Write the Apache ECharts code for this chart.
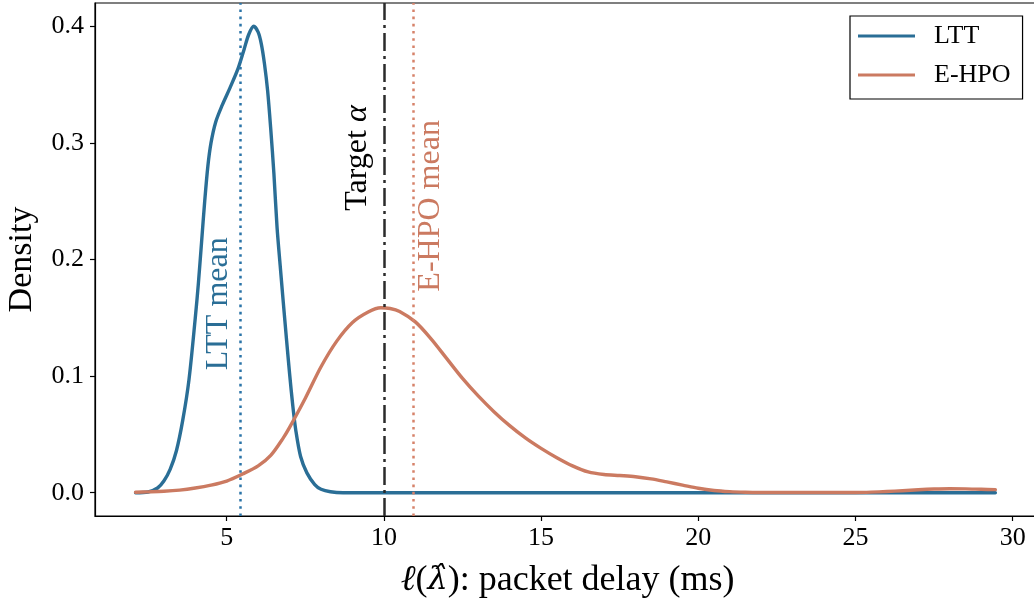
<!DOCTYPE html>
<html>
<head>
<meta charset="utf-8">
<script src="https://cdn.jsdelivr.net/npm/echarts@6/dist/echarts.min.js"></script>
<style>
  html, body { margin: 0; padding: 0; background: #fff; }
  #chart { width: 1034px; height: 601px; }
</style>
</head>
<body>
<div id="chart"></div>
<script>
// Kernel density estimates of packet delay (ms)
const lttX = [2.1, 2.5, 2.8, 3.0, 3.2, 3.4, 3.6, 3.8, 4.0, 4.1, 4.2, 4.3, 4.4, 4.5, 4.65, 4.85, 5.1, 5.35, 5.55, 5.7, 5.86, 6.0, 6.1, 6.2, 6.3, 6.4, 6.5, 6.6, 6.7, 6.8, 6.9, 7.0, 7.1, 7.2, 7.35, 7.55, 7.8, 8.0, 8.3, 8.7, 10, 15, 20, 25, 29.45];
const lttY = [0, 0.0006, 0.004, 0.010, 0.020, 0.036, 0.062, 0.097, 0.150, 0.180, 0.215, 0.250, 0.280, 0.300, 0.318, 0.332, 0.347, 0.363, 0.380, 0.393, 0.400, 0.395, 0.385, 0.368, 0.345, 0.312, 0.274, 0.228, 0.195, 0.163, 0.132, 0.102, 0.075, 0.053, 0.031, 0.017, 0.007, 0.003, 0.0008, 0, 0, 0, 0, 0, 0];

const ehpoX = [2.1, 2.5, 3.0, 3.5, 4.0, 4.5, 5.0, 5.5, 6.0, 6.4, 6.8, 7.0, 7.5, 8.0, 8.5, 9.0, 9.5, 9.9, 10.2, 10.5, 11.0, 11.5, 12.0, 12.5, 13.0, 13.5, 14.0, 14.5, 15.0, 15.5, 16.0, 16.5, 17.0, 17.5, 18.0, 18.5, 19.0, 19.5, 20.0, 20.5, 21.0, 21.5, 22.0, 23.0, 24.0, 25.0, 25.5, 26.0, 26.5, 27.0, 27.5, 28.0, 28.5, 29.0, 29.45];
const ehpoY = [0.0004, 0.0007, 0.0012, 0.0022, 0.004, 0.0065, 0.010, 0.016, 0.023, 0.032, 0.047, 0.056, 0.081, 0.108, 0.130, 0.146, 0.155, 0.1586, 0.158, 0.1555, 0.1465, 0.132, 0.115, 0.098, 0.083, 0.0695, 0.0575, 0.047, 0.038, 0.030, 0.023, 0.0178, 0.0156, 0.0147, 0.0137, 0.0118, 0.0092, 0.0065, 0.0038, 0.0019, 0.0009, 0.0004, 0.0002, 0.0001, 0.0001, 0.0002, 0.0005, 0.001, 0.0017, 0.0025, 0.0031, 0.0034, 0.0033, 0.0029, 0.0026];

// Reference lines: mean delays and the target
const lttMean = 5.42;
const ehpoMean = 10.93;
const targetAlpha = 10.0;

// Rotated annotation anchors [x, y]
const lttMeanLabelAt = [4.74, 0.162];
const targetLabelAt = [9.16, 0.287];
const ehpoMeanLabelAt = [11.48, 0.246];

const xTicks = [5, 10, 15, 20, 25, 30];
const yTicks = [0, 0.1, 0.2, 0.3, 0.4];

const LTT_COLOR = '#2a6e96';
const EHPO_COLOR = '#cb7a61';
const FONT = "'Liberation Serif', 'Times New Roman', 'DejaVu Serif', serif";

const zip = (xs, ys) => xs.map((x, i) => [x, ys[i]]);

function vline(x, color, type) {
  return {
    silent: true,
    symbol: 'none',
    label: { show: false },
    lineStyle: { color: color, width: 2.5, type: type, opacity: 1 },
    emphasis: { disabled: true },
    data: [{ xAxis: x }]
  };
}

function note(pos, text, color, rich) {
  return {
    type: 'scatter',
    silent: true,
    symbolSize: 0,
    z: 5,
    data: [pos],
    itemStyle: { opacity: 1 },
    label: {
      show: true,
      position: 'inside',
      rotate: 90,
      align: 'center',
      verticalAlign: 'middle',
      formatter: text,
      color: color,
      opacity: 1,
      fontFamily: FONT,
      fontSize: 32,
      rich: rich || {}
    }
  };
}

const chart = echarts.init(document.getElementById('chart'), null, { renderer: 'canvas' });

chart.setOption({
  animation: false,
  backgroundColor: '#ffffff',
  textStyle: { fontFamily: FONT },
  grid: {
    left: 95, top: 3, width: 945, height: 513,
    outerBoundsMode: 'none',
    containLabel: false,
    show: true, borderColor: '#000', borderWidth: 1.2, backgroundColor: 'transparent'
  },
  legend: {
    orient: 'vertical',
    left: 850, top: 16,
    data: ['LTT', 'E-HPO'],
    icon: 'rect',
    itemWidth: 57, itemHeight: 3,
    itemGap: 13,
    padding: [7, 12, 11, 8],
    borderColor: '#000', borderWidth: 1.2, borderRadius: 0,
    backgroundColor: '#fff',
    textStyle: { fontFamily: FONT, fontSize: 26, color: '#000', width: 80, padding: [0, 0, 0, 14] }
  },
  xAxis: {
    type: 'value',
    min: 0.81, max: 30.87,
    name: '{i|ℓ}({g|λ̂}): packet delay (ms)',
    nameLocation: 'middle',
    nameGap: 47,
    nameTextStyle: {
      fontFamily: FONT, fontSize: 36, color: '#000',
      rich: {
        i: { fontFamily: FONT, fontSize: 36, fontStyle: 'italic', color: '#000' },
        g: { fontFamily: "'DejaVu Serif', serif", fontSize: 32, fontStyle: 'italic', color: '#000' }
      }
    },
    axisLine: { show: true, onZero: false, lineStyle: { color: '#000', width: 1.2 } },
    axisTick: { show: true, inside: false, length: 5, customValues: xTicks, lineStyle: { color: '#000', width: 1.2 } },
    axisLabel: { customValues: xTicks, margin: 9, fontFamily: FONT, fontSize: 26, color: '#000' },
    splitLine: { show: false }
  },
  yAxis: {
    type: 'value',
    min: -0.02, max: 0.42,
    name: 'Density',
    nameLocation: 'middle',
    nameGap: 56,
    nameTextStyle: { fontFamily: FONT, fontSize: 34, color: '#000' },
    axisLine: { show: true, onZero: false, lineStyle: { color: '#000', width: 1.2 } },
    axisTick: { show: true, inside: false, length: 5, customValues: yTicks, lineStyle: { color: '#000', width: 1.2 } },
    axisLabel: {
      customValues: yTicks, margin: 11, fontFamily: FONT, fontSize: 26, color: '#000',
      formatter: v => v.toFixed(1)
    },
    splitLine: { show: false }
  },
  series: [
    {
      name: 'LTT',
      type: 'line',
      data: zip(lttX, lttY),
      smooth: 0.3,
      showSymbol: false,
      color: LTT_COLOR,
      lineStyle: { color: LTT_COLOR, width: 3.4, join: 'round', cap: 'round' },
      z: 3,
      markLine: vline(lttMean, '#2b74a8', [2.6, 4.6])
    },
    {
      name: 'E-HPO',
      type: 'line',
      data: zip(ehpoX, ehpoY),
      smooth: 0.3,
      showSymbol: false,
      color: EHPO_COLOR,
      lineStyle: { color: EHPO_COLOR, width: 3.4, join: 'round', cap: 'round' },
      z: 4,
      markLine: vline(ehpoMean, '#d6826a', [2.6, 4.6])
    },
    {
      name: 'target',
      type: 'line',
      data: [],
      markLine: vline(targetAlpha, '#2b2b2b', [18, 5, 3, 5])
    },
    note(lttMeanLabelAt, 'LTT mean', LTT_COLOR),
    note(targetLabelAt, 'Target {a|α}', '#000', { a: { fontFamily: FONT, fontSize: 32, fontStyle: 'italic', color: '#000' } }),
    note(ehpoMeanLabelAt, 'E-HPO mean', EHPO_COLOR)
  ]
});
</script>
</body>
</html>
